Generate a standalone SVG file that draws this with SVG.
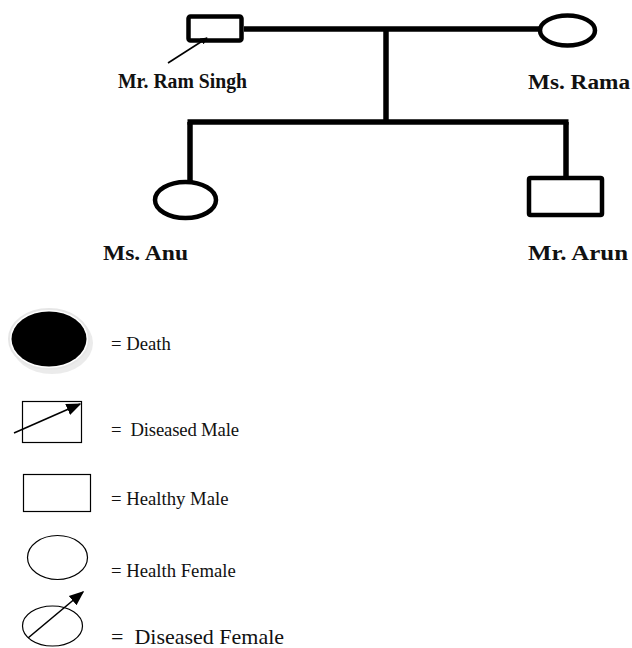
<svg xmlns="http://www.w3.org/2000/svg" width="632" height="648" viewBox="0 0 632 648">
<style>
.lbl{font-family:"Liberation Serif","Times New Roman",serif;font-weight:bold;fill:#111;}
.leg{font-family:"Liberation Serif","Times New Roman",serif;font-size:18.7px;fill:#111;}
.leg2{font-family:"Liberation Serif","Times New Roman",serif;font-size:22px;fill:#111;}
.thick{fill:none;stroke:#000;stroke-width:4.5;}
.thin{fill:none;stroke:#000;stroke-width:1.2;}
.conn{stroke:#000;stroke-width:5.5;fill:none;}
.arr{stroke:#000;stroke-width:1.6;fill:none;}
</style>
<defs>
<marker id="ah" viewBox="0 0 10 10" refX="9" refY="5" markerWidth="7" markerHeight="7" markerUnits="userSpaceOnUse" orient="auto">
<path d="M0,0 L10,5 L0,10 z" fill="#000"/>
</marker>
<marker id="ahL" viewBox="0 0 10 10" refX="9" refY="5" markerWidth="15" markerHeight="15" markerUnits="userSpaceOnUse" orient="auto">
<path d="M0,1 L10,5 L0,9 z" fill="#000"/>
</marker>
</defs>
<rect width="632" height="648" fill="#fff"/>

<g id="connectors">
<line class="conn" x1="244" y1="29" x2="540" y2="29"/>
<line class="conn" x1="386" y1="29" x2="386" y2="120"/>
<line class="conn" x1="187.5" y1="122" x2="568.5" y2="122"/>
<line class="conn" x1="190" y1="122" x2="190" y2="181"/>
<line class="conn" x1="566" y1="122" x2="566" y2="177"/>
</g>

<g id="ram-singh">
<rect class="thick" x="188.5" y="16.5" width="53" height="24" rx="2"/>
<line class="arr" x1="168" y1="63" x2="207" y2="38" marker-end="url(#ah)"/>
<text class="lbl" x="118" y="88" font-size="20" textLength="129" lengthAdjust="spacingAndGlyphs">Mr. Ram Singh</text>
</g>

<g id="rama">
<ellipse class="thick" cx="567.5" cy="30.5" rx="27.5" ry="15"/>
<text class="lbl" x="528" y="89" font-size="20" textLength="102" lengthAdjust="spacingAndGlyphs">Ms. Rama</text>
</g>

<g id="anu">
<ellipse class="thick" cx="185.5" cy="200" rx="30.5" ry="18"/>
<text class="lbl" x="103" y="260" font-size="22" textLength="85" lengthAdjust="spacingAndGlyphs">Ms. Anu</text>
</g>

<g id="arun">
<rect class="thick" x="529" y="178" width="73" height="37" rx="1.5"/>
<text class="lbl" x="528" y="260" font-size="22" textLength="100" lengthAdjust="spacingAndGlyphs">Mr. Arun</text>
</g>

<g id="legend-death">
<ellipse cx="52" cy="343" rx="41" ry="31" fill="#ddd" opacity="0.6"/>
<ellipse cx="49" cy="339" rx="40" ry="30" fill="#fff" stroke="#e6e6e6" stroke-width="2"/>
<ellipse cx="49" cy="339" rx="37.5" ry="27.5" fill="#000"/>
<text class="leg" x="111" y="350">= Death</text>
</g>

<g id="legend-diseased-male">
<rect class="thin" x="22.5" y="401.5" width="59" height="41"/>
<line class="arr" x1="14" y1="433" x2="80" y2="404" marker-end="url(#ahL)"/>
<text class="leg" x="111" y="436" textLength="128" lengthAdjust="spacing" xml:space="preserve">=  Diseased Male</text>
</g>

<g id="legend-healthy-male">
<rect class="thin" x="23.5" y="474.5" width="67" height="37"/>
<text class="leg" x="111" y="505">= Healthy Male</text>
</g>

<g id="legend-healthy-female">
<ellipse class="thin" cx="57.5" cy="557.5" rx="30" ry="22"/>
<text class="leg" x="111" y="577">= Health Female</text>
</g>

<g id="legend-diseased-female">
<ellipse class="thin" cx="52.5" cy="626" rx="30" ry="20"/>
<line class="arr" x1="28" y1="638" x2="83" y2="592" marker-end="url(#ahL)"/>
<text class="leg2" x="111" y="644" xml:space="preserve">=  Diseased Female</text>
</g>
</svg>
